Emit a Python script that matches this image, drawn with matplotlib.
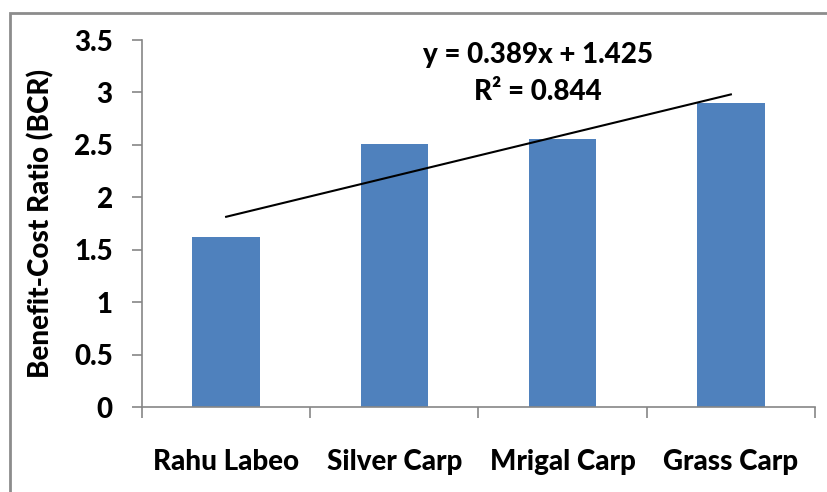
import matplotlib
matplotlib.use("Agg")
import matplotlib.pyplot as plt
from matplotlib.patches import Rectangle
import numpy as np

categories = ["Rahu Labeo", "Silver Carp", "Mrigal Carp", "Grass Carp"]
bcr = [1.62, 2.51, 2.56, 2.90]
slope = 0.389
intercept = 1.425
r2 = 0.844
yticks = [0, 0.5, 1, 1.5, 2, 2.5, 3, 3.5]
ytick_labels = ["0", "0.5", "1", "1.5", "2", "2.5", "3", "3.5"]

plt.rcParams['font.family'] = ['Lato', 'DejaVu Sans']
FW = 'black'
FS = 20

W, H = 828, 492
fig = plt.figure(figsize=(W / 100, H / 100), dpi=100)
fig.patches.append(Rectangle((10 / W, -0.1), 1.2, 1 - 13 / H + 0.1, transform=fig.transFigure,
                             fill=False, edgecolor="#8c8c8c", linewidth=2.0, clip_on=False))

ax = fig.add_axes([142 / W, 1 - 407 / H, (815 - 142) / W, (407 - 40) / H])
x = np.arange(1, len(categories) + 1)
ax.bar(x, bcr, width=0.4, color="#4f81bd", zorder=2)

xt = np.array([1, len(categories)])
ax.plot(xt, slope * xt + intercept, color="black", linewidth=1.5, zorder=3)

ax.set_xlim(0.5, len(categories) + 0.5)
ax.set_ylim(0, 3.5)
ax.set_yticks(yticks)
ax.set_yticklabels(ytick_labels, fontsize=FS, fontweight=FW)
ax.set_xticks(x)
ax.set_xticklabels(categories, fontsize=FS, fontweight=FW)
ax.set_xticks(np.arange(0.5, len(categories) + 1, 1), minor=True)
ax.tick_params(axis='x', which='major', length=0, pad=30)
ax.tick_params(axis='x', which='minor', length=8, width=1.2, color="#868686", direction='out')
ax.tick_params(axis='y', length=7, width=1.2, color="#868686", direction='out', pad=14)

for s in ['top', 'right']:
    ax.spines[s].set_visible(False)
for s in ['left', 'bottom']:
    ax.spines[s].set_color("#868686")
    ax.spines[s].set_linewidth(1.2)

ax.set_ylabel("Benefit-Cost Ratio (BCR)", fontsize=FS, fontweight=FW, labelpad=14)

ax.text(538 / W, 1 - 55 / H, f"y = {slope}x + {intercept}", transform=fig.transFigure,
        ha='center', va='center', fontsize=FS, fontweight=FW)
ax.text(538 / W, 1 - 92 / H, f"R² = {r2}", transform=fig.transFigure,
        ha='center', va='center', fontsize=FS, fontweight=FW)

fig.savefig("out.png", dpi=100)
